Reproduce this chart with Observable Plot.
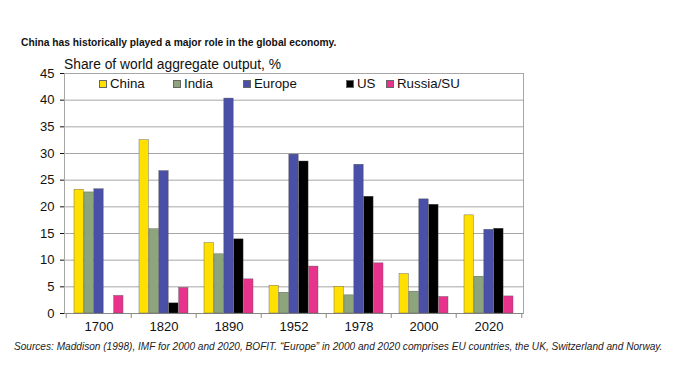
<!DOCTYPE html>
<html>
<head>
<meta charset="utf-8">
<script src="https://cdn.jsdelivr.net/npm/d3@7"></script>
<script src="https://cdn.jsdelivr.net/npm/@observablehq/plot@0.6"></script>
<style>
  html, body { margin: 0; padding: 0; background: #fff; }
  body { width: 679px; height: 382px; position: relative; overflow: hidden; font-family: Arial, "Liberation Sans", sans-serif; color: #111; }
  .title { position: absolute; left: 21px; top: 37px; font-size: 10.25px; font-weight: bold; white-space: nowrap; }
  .subtitle { position: absolute; left: 64px; top: 57px; font-size: 13.8px; white-space: nowrap; z-index: 2; }
  .legend { position: absolute; left: 99px; top: 76px; font-size: 13.3px; white-space: nowrap; z-index: 2; display: flex; }
  .legend .item { display: inline-flex; align-items: center; }
  .legend .sw { width: 6px; height: 6px; margin-right: 3px; border: 0.5px solid #666; }
  .caption { position: absolute; left: 14px; top: 341px; font-size: 10.1px; font-style: italic; white-space: nowrap; color: #222; }
  #chart { position: absolute; left: 0; top: 50px; }
</style>
</head>
<body>
<div class="title">China has historically played a major role in the global economy.</div>
<div class="subtitle">Share of world aggregate output, %</div>
<div class="legend" id="legend"></div>
<div id="chart"></div>
<div class="caption">Sources: Maddison (1998), IMF for 2000 and 2020, BOFIT. “Europe” in 2000 and 2020 comprises EU countries, the UK, Switzerland and Norway.</div>
<script>
const years = ["1700", "1820", "1890", "1952", "1978", "2000", "2020"];
const seriesNames = ["China", "India", "Europe", "US", "Russia/SU"];
const seriesColors = ["#ffe000", "#8ca57c", "#4a4fa8", "#000000", "#e8338c"];
const china  = [23.2, 32.5, 13.2, 5.2, 5.0, 7.4, 18.4];
const india  = [22.7, 15.8, 11.1, 3.9, 3.4, 4.1, 6.9];
const europe = [23.3, 26.7, 40.3, 29.8, 27.9, 21.4, 15.7];
const us     = [0, 1.9, 13.9, 28.5, 21.9, 20.4, 15.9];
const russia = [3.3, 4.8, 6.4, 8.8, 9.4, 3.1, 3.2];
const yTicks = [0, 5, 10, 15, 20, 25, 30, 35, 40, 45];

const seriesValues = [china, india, europe, us, russia];
const data = [];
seriesNames.forEach((s, i) => years.forEach((y, j) => data.push({year: y, series: s, value: seriesValues[i][j]})));

// legend
const legend = document.getElementById("legend");
const itemWidths = [74, 70, 103, 40, 80];
seriesNames.forEach((s, i) => {
  const it = document.createElement("span");
  it.className = "item";
  it.style.width = itemWidths[i] + "px";
  it.innerHTML = `<span class="sw" style="background:${seriesColors[i]}"></span>${s}`;
  legend.appendChild(it);
});

const W = 679, H = 290, ml = 64, mr = 156;
const step = (W - ml - mr) / years.length;
const pad = 8;
const bw = (step - 2 * pad) / seriesNames.length;

const marks = [
  Plot.ruleY(yTicks.filter(d => d > 0), {stroke: "#a6a6a6", strokeWidth: 1}),
  Plot.frame({stroke: "#a6a6a6"}),
  Plot.ruleY([0], {stroke: "#888"}),
  Plot.ruleX(years, {x: d => d, y1: 0, y2: 0, dx: -step / 2, insetBottom: -5, stroke: "#888"}),
  Plot.ruleX(years.slice(-1), {x: d => d, y1: 0, y2: 0, dx: step / 2, insetBottom: -5, stroke: "#888"})
];
seriesNames.forEach((s, i) => {
  marks.push(Plot.barY(data.filter(d => d.series === s && d.value > 0), {
    x: "year", y: "value",
    fill: seriesColors[i],
    stroke: "#555", strokeWidth: 0.4,
    insetLeft: pad + i * bw,
    insetRight: pad + (seriesNames.length - 1 - i) * bw
  }));
});

const chart = Plot.plot({
  width: W, height: H,
  marginLeft: ml, marginRight: mr, marginTop: 23, marginBottom: 27,
  style: {fontFamily: "Arial, 'Liberation Sans', sans-serif", fontSize: "13px", color: "#111", background: "transparent"},
  x: {domain: years, padding: 0, label: null, tickSize: 0, tickPadding: 8},
  y: {domain: [0, 45], ticks: yTicks, label: null, tickSize: 4, tickPadding: 6},
  marks
});
document.getElementById("chart").appendChild(chart);
</script>
</body>
</html>
